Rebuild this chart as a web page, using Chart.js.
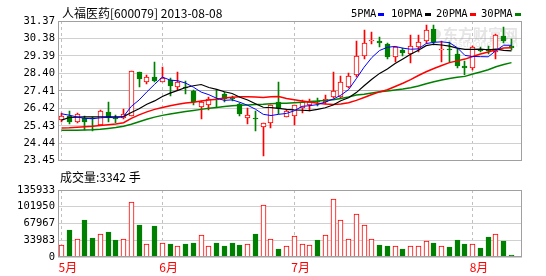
<!DOCTYPE html>
<html>
<head>
<meta charset="utf-8">
<script src="https://cdn.jsdelivr.net/npm/chart.js@4.4.1/dist/chart.umd.min.js"></script>
<style>
  html, body { margin: 0; padding: 0; background: #fff; }
  #wrap { position: relative; width: 546px; height: 276px; }
  #price { position: absolute; left: 0; top: 0; }
  #volume { position: absolute; left: 0; top: 170px; }
</style>
</head>
<body>
<div id="wrap">
  <canvas id="price" width="546" height="170"></canvas>
  <canvas id="volume" width="546" height="106"></canvas>
</div>
<script>
// trading days shown, 2013-05-15 .. 2013-08-08
const dates = [
  "2013-05-15","2013-05-16","2013-05-17","2013-05-20","2013-05-21","2013-05-22","2013-05-23","2013-05-24",
  "2013-05-27","2013-05-28","2013-05-29","2013-05-30","2013-05-31",
  "2013-06-03","2013-06-04","2013-06-05","2013-06-06","2013-06-07","2013-06-13","2013-06-14","2013-06-17",
  "2013-06-18","2013-06-19","2013-06-20","2013-06-21","2013-06-24","2013-06-25","2013-06-26","2013-06-27","2013-06-28",
  "2013-07-01","2013-07-02","2013-07-03","2013-07-04","2013-07-05","2013-07-08","2013-07-09","2013-07-10",
  "2013-07-11","2013-07-12","2013-07-15","2013-07-16","2013-07-17","2013-07-18","2013-07-19","2013-07-22",
  "2013-07-23","2013-07-24","2013-07-25","2013-07-26","2013-07-29","2013-07-30","2013-07-31",
  "2013-08-01","2013-08-02","2013-08-05","2013-08-06","2013-08-07","2013-08-08"
];
const open = [
  25.75, 25.98, 25.67, 25.89, 25.87, 25.48, 26.22, 25.89, 25.85, 25.99,
  28.49, 27.91, 28.18, 27.94, 28.01, 27.62, 27.65, 27.38, 26.52, 26.59,
  26.97, 27.25, 26.99, 26.66, 25.89, 25.84, 25.38, 25.56, 26.77, 25.95,
  25.98, 26.44, 26.59, 26.85, 26.80, 27.08, 27.08, 27.63, 28.31, 29.37,
  30.22, 30.26, 30.07, 29.34, 29.74, 29.52, 29.89, 30.25, 30.93, 29.70,
  29.73, 29.52, 28.82, 28.73, 29.74, 29.78, 29.59, 30.51, 29.96
];
const high = [
  26.18, 26.26, 26.14, 25.98, 25.90, 26.35, 26.75, 26.04, 26.40, 28.55,
  28.50, 28.31, 29.06, 28.78, 28.16, 28.46, 27.98, 27.45, 26.85, 27.06,
  27.45, 27.35, 27.10, 26.70, 26.44, 26.26, 25.58, 26.62, 27.90, 26.35,
  26.62, 26.90, 26.95, 26.99, 27.17, 28.46, 28.23, 28.42, 30.25, 30.87,
  30.75, 30.47, 30.10, 29.90, 29.83, 30.57, 30.57, 31.17, 31.12, 30.25,
  30.20, 29.83, 29.10, 29.93, 29.89, 29.93, 30.62, 31.02, 30.33
];
const low = [
  25.63, 25.52, 25.56, 25.19, 25.15, 25.48, 25.62, 25.56, 25.80, 25.96,
  27.61, 27.82, 27.91, 27.89, 27.10, 27.45, 27.24, 26.60, 25.82, 26.35,
  26.50, 26.77, 26.85, 25.98, 25.52, 25.12, 23.72, 25.29, 26.07, 25.90,
  25.49, 26.17, 26.29, 26.53, 26.66, 26.99, 27.00, 27.55, 28.18, 29.19,
  30.07, 29.92, 29.23, 29.04, 29.41, 28.97, 29.59, 30.10, 30.02, 29.04,
  29.04, 28.73, 28.31, 28.60, 29.59, 29.50, 29.19, 30.14, 29.75
];
const close = [
  25.96, 25.65, 26.07, 25.67, 25.84, 26.29, 25.89, 25.82, 26.11, 28.53,
  28.09, 28.20, 27.96, 28.16, 27.70, 27.90, 27.55, 26.79, 26.77, 26.92,
  26.90, 26.97, 26.96, 26.07, 26.03, 25.80, 25.56, 26.59, 26.44, 26.24,
  26.59, 26.80, 26.77, 26.77, 26.95, 27.39, 27.94, 28.27, 29.41, 30.10,
  30.26, 30.10, 29.34, 29.87, 29.56, 29.96, 30.20, 30.88, 30.20, 29.72,
  29.70, 28.82, 28.68, 29.89, 29.65, 29.65, 30.57, 30.25, 29.83
];
const volume = [
  25000, 53900, 37200, 74100, 37800, 47300, 49900, 33700, 37200, 112500,
  64000, 27100, 62000, 29100, 25700, 23000, 25700, 27700, 43800, 21600,
  27700, 21600, 27700, 23600, 27100, 45900, 106500, 35800, 16200, 23000,
  41800, 27100, 25000, 33700, 45200, 118000, 74100, 37200, 87700, 65400,
  37200, 23600, 21600, 23000, 15600, 23000, 23000, 33100, 27700, 23000,
  19600, 33700, 25700, 27100, 17600, 39800, 47300, 31700, 3342
];
const ma5 = [
  26.11, 26.03, 25.93, 25.85, 25.83, 25.88, 25.91, 25.88, 25.96, 26.53,
  26.89, 27.35, 27.78, 28.19, 28.02, 27.98, 27.85, 27.62, 27.34, 27.19,
  26.99, 26.87, 26.90, 26.76, 26.59, 26.37, 26.08, 26.01, 26.08, 26.13,
  26.28, 26.53, 26.57, 26.63, 26.78, 26.94, 27.16, 27.48, 28.10, 28.75,
  29.30, 29.70, 29.88, 29.93, 29.83, 29.77, 29.79, 30.09, 30.16, 30.19,
  30.14, 29.86, 29.42, 29.36, 29.35, 29.34, 29.69, 30.00, 29.99
];
const ma10 = [
  25.75, 25.90, 25.92, 25.93, 25.93, 25.93, 25.93, 25.93, 25.95, 26.18,
  26.40, 26.65, 26.84, 27.09, 27.28, 27.44, 27.60, 27.70, 27.77, 27.60,
  27.49, 27.36, 27.26, 27.05, 26.89, 26.68, 26.48, 26.46, 26.42, 26.36,
  26.33, 26.31, 26.29, 26.36, 26.45, 26.61, 26.85, 27.02, 27.31, 27.70,
  28.07, 28.40, 28.65, 28.96, 29.22, 29.48, 29.71, 29.97, 30.05, 30.01,
  29.95, 29.83, 29.76, 29.76, 29.77, 29.74, 29.78, 29.71, 29.68
];
const ma20 = [
  25.30, 25.32, 25.35, 25.38, 25.41, 25.45, 25.49, 25.53, 25.60, 25.85,
  26.05, 26.22, 26.36, 26.47, 26.57, 26.65, 26.72, 26.77, 26.83, 26.89,
  26.94, 27.01, 27.05, 27.07, 27.08, 27.06, 27.04, 27.08, 27.09, 26.98,
  26.91, 26.84, 26.78, 26.71, 26.67, 26.64, 26.66, 26.74, 26.87, 27.03,
  27.20, 27.35, 27.47, 27.66, 27.84, 28.05, 28.28, 28.49, 28.68, 28.85,
  29.01, 29.11, 29.21, 29.36, 29.50, 29.61, 29.74, 29.84, 29.86
];
const ma30 = [
  25.18, 25.18, 25.18, 25.19, 25.20, 25.23, 25.28, 25.33, 25.40, 25.52,
  25.66, 25.80, 25.92, 26.02, 26.10, 26.17, 26.24, 26.30, 26.36, 26.42,
  26.47, 26.52, 26.56, 26.59, 26.61, 26.63, 26.65, 26.68, 26.70, 26.71,
  26.74, 26.77, 26.80, 26.83, 26.87, 26.91, 26.98, 27.06, 27.17, 27.22,
  27.29, 27.36, 27.40, 27.46, 27.52, 27.59, 27.68, 27.81, 27.93, 28.02,
  28.11, 28.18, 28.23, 28.36, 28.48, 28.61, 28.78, 28.90, 29.01
];
const priceTicks = [23.45, 24.44, 25.43, 26.42, 27.41, 28.40, 29.39, 30.38, 31.37];
const volumeTicks = [0, 33983, 67967, 101950, 135933];

const RED = "#ff0000";
const GREEN = "#008000";
const tickFont = { family: "DejaVu Sans Mono", size: 10.5 };
const cjk = '"Noto Sans CJK SC", sans-serif';

const idx = dates.map((d, i) => i);
const up = close.map((c, i) => c >= open[i]);
// first trading day of each month
const monthStarts = idx.filter(i => i === 0 || dates[i].slice(5, 7) !== dates[i - 1].slice(5, 7));
const xMin = -0.451, xMax = 59.354;

const frame = {
  id: "frame",
  afterDatasetsDraw(chart) {
    const { ctx, chartArea: a } = chart;
    ctx.save();
    ctx.strokeStyle = "#a0a0a0";
    ctx.lineWidth = 1;
    ctx.strokeRect(Math.round(a.left) + 0.5, Math.round(a.top) + 0.5,
      Math.round(a.right - a.left) - 1, Math.round(a.bottom - a.top) - 1);
    ctx.restore();
  }
};

// snap bar elements to whole pixels so the thin outlines stay crisp
const snapBars = {
  id: "snapBars",
  beforeDatasetsDraw(chart) {
    chart.data.datasets.forEach((ds, i) => {
      const meta = chart.getDatasetMeta(i);
      if (meta.type !== "bar") return;
      meta.data.forEach(el => {
        el.x = Math.round(el.x - 0.5) + 0.5;
        el.y = Math.round(el.y);
        el.base = Math.round(el.base);
      });
    });
  }
};

const priceText = {
  id: "priceText",
  beforeDatasetsDraw(chart) {
    // watermark behind the candles
    const ctx = chart.ctx;
    ctx.save();
    ctx.fillStyle = "rgba(160,160,160,0.28)";
    ctx.beginPath();
    ctx.arc(436, 34, 5, 0, Math.PI * 2);
    ctx.fill();
    ctx.font = "bold 15px " + cjk;
    ctx.textBaseline = "middle";
    ctx.fillText("东方财富网", 443, 34);
    ctx.font = "9px 'DejaVu Sans'";
    ctx.fillText("eastmoney.com", 447, 45);
    ctx.restore();
  },
  afterDraw(chart) {
    const ctx = chart.ctx;
    ctx.save();
    ctx.fillStyle = "#000";
    ctx.textBaseline = "middle";
    ctx.font = "12px " + cjk;
    ctx.fillText("人福医药[600079] 2013-08-08", 62, 13.5);
    const legend = [["5PMA", "#0000ff", 351], ["10PMA", "#000000", 391], ["20PMA", RED, 436], ["30PMA", GREEN, 481]];
    ctx.font = "10.5px 'DejaVu Sans Mono'";
    legend.forEach(([t, c, x]) => {
      ctx.fillStyle = "#000";
      ctx.fillText(t, x, 14.5);
      const w = ctx.measureText(t).width;
      ctx.fillStyle = c;
      ctx.fillRect(Math.round(x + w + 2), 13, 6, 3);
    });
    ctx.restore();
  }
};

const volText = {
  id: "volText",
  afterDraw(chart) {
    const ctx = chart.ctx;
    ctx.save();
    ctx.fillStyle = "#000";
    ctx.textBaseline = "middle";
    ctx.font = "12px " + cjk;
    ctx.fillText("成交量:" + volume[volume.length - 1] + " 手", 60, 7);
    ctx.restore();
  }
};

const maLine = (vals, color, width) => ({
  type: "line",
  data: idx.map(i => ({ x: i, y: vals[i] })),
  borderColor: color,
  borderWidth: width,
  pointRadius: 0,
  tension: 0,
  order: 0
});

const timeAxis = extra => Object.assign({
  type: "linear",
  min: xMin,
  max: xMax,
  offset: false,
  bounds: "data",
  grid: { color: "#c0c0c0", drawTicks: false, offset: false },
  border: { display: false, dash: [3, 3] },
  afterBuildTicks: s => { s.ticks = monthStarts.map(v => ({ value: v })); }
}, extra);

new Chart(document.getElementById("price"), {
  type: "bar",
  data: {
    datasets: [
      maLine(ma5, "#0000ff", 1),
      maLine(ma10, "#000000", 1.2),
      maLine(ma20, RED, 1.5),
      maLine(ma30, GREEN, 1.5),
      {
        type: "bar",
        data: idx.map(i => ({ x: i, y: [open[i], close[i]] })),
        backgroundColor: up.map(u => (u ? "#ffffff" : GREEN)),
        borderColor: up.map(u => (u ? RED : GREEN)),
        borderWidth: 1,
        borderSkipped: false,
        barThickness: 5,
        minBarLength: 1,
        grouped: false,
        order: 1
      },
      {
        type: "bar",
        data: idx.map(i => ({ x: i, y: [low[i], high[i]] })),
        backgroundColor: up.map(u => (u ? RED : GREEN)),
        borderWidth: 0,
        barThickness: 1,
        grouped: false,
        order: 2
      }
    ]
  },
  options: {
    responsive: false,
    animation: false,
    events: [],
    layout: { padding: { top: 21, bottom: 4, left: 0, right: 24 } },
    plugins: { legend: { display: false }, tooltip: { enabled: false } },
    scales: {
      x: timeAxis({
        ticks: { display: false },
        afterFit: s => { s.height = 0; }
      }),
      y: {
        min: priceTicks[0],
        max: priceTicks[priceTicks.length - 1],
        afterBuildTicks: s => { s.ticks = priceTicks.map(v => ({ value: v })); },
        ticks: { callback: v => v.toFixed(2), padding: 3, color: "#000", font: tickFont },
        grid: {
          color: c => (c.tick && c.tick.value === priceTicks[4] ? "#a8a8a8" : "#d0d0d0"),
          drawTicks: false
        },
        border: { display: false },
        afterFit: s => { s.width = 58; }
      }
    }
  },
  plugins: [snapBars, frame, priceText]
});

new Chart(document.getElementById("volume"), {
  type: "bar",
  data: {
    datasets: [{
      data: idx.map(i => ({ x: i, y: volume[i] })),
      backgroundColor: up.map(u => (u ? "#ffffff" : GREEN)),
      borderColor: up.map(u => (u ? RED : GREEN)),
      borderWidth: 1,
      borderSkipped: false,
      barThickness: 5,
      grouped: false
    }]
  },
  options: {
    responsive: false,
    animation: false,
    events: [],
    layout: { padding: { top: 20, bottom: 0, left: 0, right: 24 } },
    plugins: { legend: { display: false }, tooltip: { enabled: false } },
    scales: {
      x: timeAxis({
        ticks: {
          callback: v => parseInt(dates[v].slice(5, 7), 10) + "月",
          color: RED,
          font: { family: "Noto Sans CJK SC", size: 12 },
          align: "start",
          labelOffset: -3,
          padding: 3,
          maxRotation: 0,
          autoSkip: false
        },
        afterFit: s => { s.height = 19; }
      }),
      y: {
        min: 0,
        max: volumeTicks[volumeTicks.length - 1],
        afterBuildTicks: s => { s.ticks = volumeTicks.map(v => ({ value: v })); },
        ticks: { callback: v => String(v), padding: 3, color: "#000", font: tickFont },
        grid: { color: "#d0d0d0", drawTicks: false },
        border: { display: false },
        afterFit: s => { s.width = 58; }
      }
    }
  },
  plugins: [snapBars, frame, volText]
});
</script>
</body>
</html>
